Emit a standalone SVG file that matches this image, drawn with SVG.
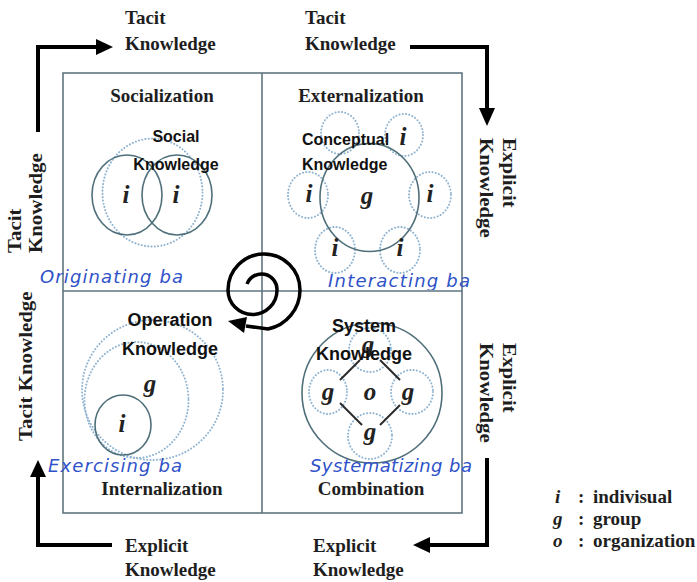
<svg xmlns="http://www.w3.org/2000/svg" width="697" height="582" viewBox="0 0 697 582">
<style>
.serif{font-family:"Liberation Serif","Times New Roman",serif;font-weight:bold;fill:#1e1e1e}
.lbl{font-size:19px}
.head{font-size:19px}
.sans{font-family:"Liberation Sans",Arial,sans-serif;font-weight:bold;fill:#111}
.ba{font-family:"DejaVu Sans",Verdana,sans-serif;font-style:italic;font-size:18px;fill:#2f52c8}
.let{font-family:"Liberation Serif","Times New Roman",serif;font-style:italic;font-weight:bold;font-size:25px;fill:#222;text-anchor:middle}
.solid{fill:none;stroke:#4f6f7a;stroke-width:1.6}
.dot{fill:none;stroke:#8fb3d0;stroke-width:2;stroke-dasharray:0.1 3.2;stroke-linecap:round}
.box{fill:none;stroke:#5f7580;stroke-width:1.6}
.arr{fill:none;stroke:#000;stroke-width:4}
.head-tri{fill:#000}
.leg{font-family:"Liberation Serif","Times New Roman",serif;font-weight:bold;font-size:19px;fill:#1e1e1e}
</style>
<defs>
<clipPath id="topclip"><rect x="0" y="0" width="697" height="290"/></clipPath>
</defs>
<rect width="697" height="582" fill="#fff"/>

<g id="frame">
<rect class="box" x="63" y="73" width="399" height="440"/>
<line class="box" x1="262" y1="73" x2="262" y2="513"/>
<line class="box" x1="63" y1="291" x2="462" y2="291"/>
</g>

<g id="connectors">
<path class="arr" d="M38,132 L38,47 L97,47"/>
<polygon class="head-tri" points="96,39 113,47 96,55"/>
<path class="arr" d="M410,47 L487,47 L487,110"/>
<polygon class="head-tri" points="479,108 487,126 495,108"/>
<path class="arr" d="M487,458 L487,545 L428,545"/>
<polygon class="head-tri" points="430,537 413,545 430,553"/>
<path class="arr" d="M112,545 L38,545 L38,476"/>
<polygon class="head-tri" points="30,477 38,460 46,477"/>
<path fill="none" stroke="#000" stroke-width="3.5" d="M247,284 A15.5 15.5 0 0 1 277,290 A24.5 24.5 0 0 1 228,290 A36 36 0 0 1 300,290 A40 40 0 0 1 268,329 L246,326"/>
<polygon class="head-tri" points="247,317 228,321 244,333"/>
</g>

<g id="outer-labels">
<text class="serif lbl" x="125" y="24">Tacit</text>
<text class="serif lbl" x="125" y="50">Knowledge</text>
<text class="serif lbl" x="305" y="24">Tacit</text>
<text class="serif lbl" x="305" y="50">Knowledge</text>
<text class="serif lbl" x="125" y="552">Explicit</text>
<text class="serif lbl" x="125" y="576">Knowledge</text>
<text class="serif lbl" x="313" y="552">Explicit</text>
<text class="serif lbl" x="313" y="576">Knowledge</text>
<text class="serif lbl" transform="translate(503,138) rotate(90) scale(1.1,1)">Explicit</text>
<text class="serif lbl" transform="translate(480,138) rotate(90) scale(1.1,1)">Knowledge</text>
<text class="serif lbl" transform="translate(503,343) rotate(90) scale(1.1,1)">Explicit</text>
<text class="serif lbl" transform="translate(480,343) rotate(90) scale(1.1,1)">Knowledge</text>
<text class="serif lbl" transform="translate(21,253) rotate(-90) scale(1.1,1)">Tacit</text>
<text class="serif lbl" transform="translate(42,253) rotate(-90) scale(1.1,1)">Knowledge</text>
<text class="serif lbl" transform="translate(32,441) rotate(-90) scale(1.1,1)">Tacit Knowledge</text>
</g>

<g id="socialization">
<text class="serif head" x="162" y="102" text-anchor="middle">Socialization</text>
<ellipse class="dot" cx="152.5" cy="192.5" rx="50" ry="54"/>
<ellipse class="solid" cx="127" cy="195" rx="35" ry="40"/>
<ellipse class="solid" cx="177" cy="195" rx="35" ry="40"/>
<text class="let" x="126" y="203">i</text>
<text class="let" x="176" y="203">i</text>
<text class="sans" font-size="16" x="176" y="142" text-anchor="middle">Social</text>
<text class="sans" font-size="16" x="176" y="170" text-anchor="middle">Knowledge</text>
<text class="ba" x="40" y="283" textLength="143" lengthAdjust="spacing" clip-path="url(#topclip)">Originating ba</text>
</g>

<g id="externalization">
<text class="serif head" x="361" y="102" text-anchor="middle">Externalization</text>
<ellipse class="dot" cx="340" cy="133" rx="19" ry="21"/>
<ellipse class="dot" cx="404" cy="135" rx="19" ry="21"/>
<ellipse class="dot" cx="308" cy="195" rx="20" ry="23"/>
<ellipse class="dot" cx="430" cy="195" rx="21" ry="23"/>
<ellipse class="dot" cx="335" cy="250" rx="20" ry="23"/>
<ellipse class="dot" cx="400" cy="250" rx="20" ry="23"/>
<ellipse class="solid" cx="369.5" cy="197.5" rx="49.5" ry="54"/>
<text class="let" x="367" y="204" font-size="28">g</text>
<text class="let" x="403" y="145">i</text>
<text class="let" x="309" y="202">i</text>
<text class="let" x="430" y="202">i</text>
<text class="let" x="335" y="256">i</text>
<text class="let" x="400" y="256">i</text>
<text class="sans" font-size="16" x="302" y="145">Conceptual</text>
<text class="sans" font-size="16" x="302" y="170">Knowledge</text>
<text class="ba" x="328" y="287" textLength="142" lengthAdjust="spacing" clip-path="url(#topclip)">Interacting ba</text>
</g>

<g id="internalization">
<ellipse class="dot" cx="152.5" cy="390" rx="70.5" ry="70"/>
<ellipse class="dot" cx="136.5" cy="400" rx="52" ry="58"/>
<ellipse class="solid" cx="123" cy="425" rx="28" ry="30"/>
<text class="let" x="122" y="432">i</text>
<text class="let" x="150" y="392">g</text>
<text class="sans" font-size="18" x="170" y="326" text-anchor="middle">Operation</text>
<text class="sans" font-size="18" x="170" y="355" text-anchor="middle">Knowledge</text>
<text class="ba" x="48" y="472" textLength="134" lengthAdjust="spacing">Exercising ba</text>
<text class="serif head" x="162" y="495" text-anchor="middle">Internalization</text>
</g>

<g id="combination">
<ellipse class="solid" cx="372" cy="393" rx="70" ry="70"/>
<ellipse class="dot" cx="370" cy="350" rx="21" ry="22"/>
<ellipse class="dot" cx="328" cy="392" rx="19" ry="22"/>
<ellipse class="dot" cx="412" cy="392" rx="21" ry="22"/>
<ellipse class="dot" cx="370" cy="436" rx="22" ry="23"/>
<g stroke="#2a2a2a" stroke-width="2">
<line x1="340" y1="380" x2="360" y2="360"/>
<line x1="380" y1="360" x2="400" y2="380"/>
<line x1="340" y1="403" x2="362" y2="425"/>
<line x1="380" y1="425" x2="400" y2="405"/>
</g>
<text class="let" x="368" y="353">g</text>
<text class="let" x="328" y="400">g</text>
<text class="let" x="370" y="400">o</text>
<text class="let" x="408" y="400">g</text>
<text class="let" x="370" y="440">g</text>
<text class="sans" font-size="18" x="364" y="332" text-anchor="middle">System</text>
<text class="sans" font-size="18" x="364" y="360" text-anchor="middle">Knowledge</text>
<text class="ba" x="310" y="472" textLength="162" lengthAdjust="spacing">Systematizing ba</text>
<text class="serif head" x="371" y="495" text-anchor="middle">Combination</text>
</g>

<g id="legend">
<text class="leg" x="555" y="503" font-style="italic">i</text>
<text class="leg" x="578" y="503">:</text>
<text class="leg" x="593" y="503">indivisual</text>
<text class="leg" x="553" y="525" font-style="italic">g</text>
<text class="leg" x="578" y="525">:</text>
<text class="leg" x="593" y="525">group</text>
<text class="leg" x="553" y="547" font-style="italic">o</text>
<text class="leg" x="578" y="547">:</text>
<text class="leg" x="593" y="547">organization</text>
</g>
</svg>
